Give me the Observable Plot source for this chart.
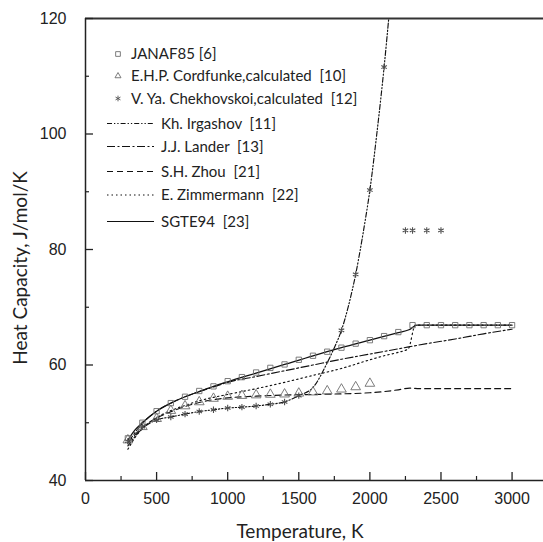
<!DOCTYPE html>
<html><head><meta charset="utf-8">
<script src="https://cdn.jsdelivr.net/npm/d3@7"></script>
<script src="https://cdn.jsdelivr.net/npm/@observablehq/plot@0.6"></script>
<style>
body{margin:0;background:#fff}
#chart{width:543px;height:542px}
#chart svg text{font-family:"Liberation Sans", Arial, sans-serif}
#chart svg .ttl, #chart svg .lg text{font-family:Lato, "Open Sans", sans-serif}
</style>
</head><body><div id="chart"></div>
<script>
// ---- data ----
const janafT  = [298,400,500,600,700,800,900,1000,1100,1200,1300,1400,1500,1600,1700,1800,1900,2000,2100,2200,2300,2400,2500,2600,2700,2800,2900,3000];
const janafCp = [47.3,50.0,52.0,53.4,54.5,55.5,56.3,57.2,57.9,58.7,59.5,60.1,60.9,61.6,62.3,63.0,63.7,64.3,65.0,65.7,66.9,66.9,66.9,66.9,66.9,66.9,66.9,66.9];

const cordT  = [298,400,500,600,700,800,900,1000,1100,1200,1300,1400,1500,1600,1700,1800,1900,2000];
const cordCp = [47.0,49.3,50.7,52.1,52.9,53.6,54.2,54.55,54.7,54.8,54.9,54.95,55.1,55.3,55.5,55.8,56.2,56.8];

const chekT  = [298,400,500,600,700,800,900,1000,1100,1200,1300,1400,1500,1800,1900,2000,2100,2250,2300,2400,2500];
const chekCp = [46.8,49.3,50.5,51.0,51.5,51.95,52.25,52.55,52.7,52.9,53.2,53.6,54.7,66.0,75.7,90.3,111.6,83.3,83.3,83.3,83.3];

const irgT  = [298,400,500,600,700,800,900,1000,1100,1200,1300,1400,1500,1600,1700,1750,1800,1850,1900,1950,2000,2050,2100,2140];
const irgCp = [46.0,49.0,50.5,51.0,51.5,51.95,52.25,52.55,52.7,52.9,53.2,53.6,54.7,56.1,60.4,63.0,66.0,70.3,75.7,82.5,90.3,100.3,111.6,122];

const landerT  = [298,400,500,600,700,800,900,1000,1200,1400,1600,1800,2000,2200,2400,2600,2800,3000];
const landerCp = [46.5,49.9,52.0,53.4,54.5,55.4,56.2,57.0,58.0,59.0,60.0,61.0,61.9,62.8,63.7,64.5,65.4,66.2];

const zhouT  = [298,400,500,600,700,800,900,1000,1200,1400,1600,1800,2000,2100,2200,2280,2350,3000];
const zhouCp = [46.5,49.2,50.8,51.9,52.8,53.5,54.0,54.3,54.6,54.8,54.9,55.0,55.2,55.4,55.7,56.0,55.9,55.9];

const zimT  = [298,350,400,500,600,700,800,900,1000,1100,1200,1400,1600,1800,2000,2100,2200,2270,2320,3000];
const zimCp = [45.4,47.5,49.0,50.9,52.1,53.0,53.8,54.4,54.9,55.4,55.9,57.0,58.2,59.4,60.9,61.6,62.2,62.8,66.9,66.9];

const sgteT  = [298,350,400,500,600,700,800,900,1000,1200,1400,1600,1800,2000,2200,2275,2330,3000];
const sgteCp = [47.0,48.8,50.0,52.0,53.4,54.5,55.4,56.3,57.1,58.6,60.1,61.6,63.0,64.3,65.6,66.1,66.9,66.9];

const xMajor = [0,500,1000,1500,2000,2500,3000];
const xMinor = [250,750,1250,1750,2250,2750];
const yMajor = [40,60,80,100,120];
const yMinor = [50,70,90,110];

const pointNames = ["JANAF85 [6]", "E.H.P. Cordfunke,calculated  [10]", "V. Ya. Chekhovskoi,calculated  [12]"];
const lineNames  = ["Kh. Irgashov  [11]", "J.J. Lander  [13]", "S.H. Zhou  [21]", "E. Zimmermann  [22]", "SGTE94  [23]"];

// ---- tables ----
const zip = (T, C) => T.map((t, i) => ({T: t, Cp: C[i]}));
const janaf = zip(janafT, janafCp), cord = zip(cordT, cordCp), chek = zip(chekT, chekCp);
const irg = zip(irgT, irgCp), lander = zip(landerT, landerCp), zhou = zip(zhouT, zhouCp);
const zim = zip(zimT, zimCp), sgte = zip(sgteT, sgteCp);

const dashes = ["5,2,1.3,2,1.3,2", "8,2.5,2,2.5", "6,4", "1.5,3", null];
const pointSym = ["square", "triangle", "asterisk"];
const ink = "#111", mk = "#6e6e6e", mkDark = "#505050";

const lineMark = (data, i, extra = {}) => Plot.line(data, {x: "T", y: "Cp", curve: "monotone-x", stroke: ink, strokeWidth: 1.15, strokeDasharray: dashes[i], ...extra});

const plot = Plot.plot({
  width: 543, height: 542,
  marginTop: 18, marginBottom: 62, marginLeft: 85, marginRight: 0,
  x: {domain: [0, 3221]},
  y: {domain: [40, 120]},
  style: {fontSize: "16px", color: "#222", background: "#fff"},
  marks: [
    lineMark(irg, 0, {clip: true}),
    lineMark(lander, 1),
    lineMark(zhou, 2),
    lineMark(zim, 3),
    lineMark(sgte, 4, {strokeWidth: 1.3}),
    Plot.dot(janaf, {x: "T", y: "Cp", symbol: "square", r: 3, stroke: mk, strokeWidth: 0.9, fill: "none"}),
    Plot.dot(cord, {x: "T", y: "Cp", symbol: "triangle", r: 3.6, stroke: mk, strokeWidth: 0.9, fill: "none"}),
    Plot.dot(chek, {x: "T", y: "Cp", symbol: "asterisk", r: 3, stroke: mkDark, strokeWidth: 1.1}),
    Plot.ruleY([40], {stroke: "#222", strokeWidth: 1.5}),
    Plot.ruleY([120], {stroke: "#333", strokeWidth: 2}),
    Plot.ruleX([0], {stroke: "#222", strokeWidth: 1.5}),
    Plot.axisX(xMajor, {tickSize: -8, tickPadding: 20, label: null, strokeWidth: 1.3, tickFormat: d => String(d)}),
    Plot.axisX(xMinor, {tickSize: -4, tickFormat: () => "", label: null, strokeWidth: 1.2}),
    Plot.axisY(yMajor, {tickSize: -8, tickPadding: 27, label: null, strokeWidth: 1.3, tickFormat: d => String(d)}),
    Plot.axisY(yMinor, {tickSize: -4, tickFormat: () => "", label: null, strokeWidth: 1.2})
  ]
});
document.getElementById("chart").appendChild(plot);

// ---- titles & legend ----
const svg = d3.select(plot);
svg.append("text").attr("class", "ttl").attr("x", 300).attr("y", 538).attr("text-anchor", "middle")
  .attr("font-size", 19).attr("fill", "#222").text("Temperature, K");
svg.append("text").attr("class", "ttl").attr("transform", "translate(27,268) rotate(-90)").attr("text-anchor", "middle")
  .attr("font-size", 19).attr("fill", "#222").text("Heat Capacity, J/mol/K");

const lg = svg.append("g").attr("class", "lg").attr("text-anchor", "start").attr("font-size", 15).attr("fill", "#222");
const pointRowY = [54, 76, 98.5];
const symMap = {square: d3.symbolSquare, triangle: d3.symbolTriangle2, asterisk: d3.symbolAsterisk};
pointNames.forEach((name, i) => {
  lg.append("path").attr("transform", `translate(118,${pointRowY[i]})`)
    .attr("d", d3.symbol(symMap[pointSym[i]], i === 1 ? 26 : 22)())
    .attr("fill", "none").attr("stroke", i === 2 ? mkDark : mk).attr("stroke-width", 0.9);
  lg.append("text").attr("x", 131).attr("y", pointRowY[i]).attr("dy", "0.35em")
    .attr("text-anchor", "start").style("white-space", "pre").text(name);
});
const lineRowY = [123.5, 146.5, 171.5, 195, 221.5];
lineNames.forEach((name, i) => {
  lg.append("line").attr("x1", 107).attr("x2", 154).attr("y1", lineRowY[i]).attr("y2", lineRowY[i])
    .attr("stroke", ink).attr("stroke-width", 1.1).attr("stroke-dasharray", dashes[i]);
  lg.append("text").attr("x", 161).attr("y", lineRowY[i]).attr("dy", "0.35em")
    .attr("text-anchor", "start").style("white-space", "pre").text(name);
});
</script>
</body></html>
